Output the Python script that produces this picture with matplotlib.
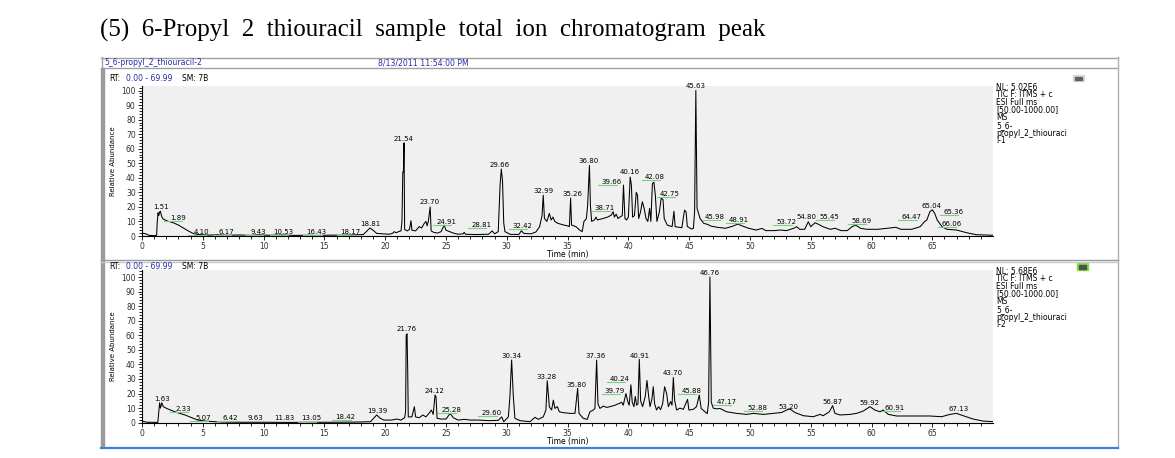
import matplotlib
matplotlib.use("Agg")
import matplotlib.pyplot as plt
from matplotlib.patches import Rectangle
from matplotlib.lines import Line2D
from matplotlib.ticker import MultipleLocator

W, H = 1175, 458

title = "(5)  6-Propyl  2  thiouracil  sample  total  ion  chromatogram  peak"
file_name = "5_6-propyl_2_thiouracil-2"
run_date = "8/13/2011 11:54:00 PM"

# ---- run 1 (top) : trace vertices ----
top_t = [0.0, 0.3, 0.6, 1.0, 1.2, 1.25, 1.32, 1.38, 1.45, 1.51, 1.6, 1.7, 1.89, 2.2, 2.6,
         3.0, 3.4, 3.8, 4.2, 4.6, 5.0, 5.5, 6.2, 7.0, 8.0, 9.0, 9.5, 10.5, 11.5, 12.5,
         13.5, 14.5, 15.5, 16.5, 17.5, 18.2, 18.5, 18.75, 19.0, 19.3, 19.8, 20.3, 20.6,
         20.75, 20.9, 21.1, 21.3, 21.38, 21.45, 21.5, 21.55, 21.6, 21.8, 22.0, 22.12,
         22.2, 22.5, 22.8, 23.0, 23.2, 23.35, 23.45, 23.55, 23.7, 23.78, 24.0, 24.3,
         24.6, 24.85, 25.0, 25.3, 25.6, 26.0, 26.4, 26.5, 26.6, 27.5, 28.5, 28.8, 29.0,
         29.3, 29.45, 29.55, 29.65, 29.75, 29.85, 30.3, 31.0, 31.2, 31.4, 32.0, 32.4,
         32.7, 32.9, 33.0, 33.1, 33.3, 33.5, 33.65, 33.8, 33.95, 34.2, 34.7, 35.0,
         35.15, 35.25, 35.33, 35.7, 36.0, 36.2, 36.35, 36.55, 36.65, 36.8, 36.88, 36.98,
         37.2, 37.35, 37.45, 37.9, 38.3, 38.6, 38.75, 38.85, 39.0, 39.15, 39.3, 39.5,
         39.6, 39.72, 39.85, 40.0, 40.15, 40.25, 40.35, 40.5, 40.65, 40.75, 40.85, 41.0,
         41.15, 41.3, 41.45, 41.6, 41.75, 41.85, 41.98, 42.1, 42.22, 42.35, 42.55, 42.7,
         42.85, 42.95, 43.2, 43.6, 43.75, 43.85, 44.4, 44.62, 44.75, 44.85, 45.2, 45.35,
         45.45, 45.55, 45.65, 45.9, 46.2, 46.5, 46.8, 47.3, 48.0, 48.6, 49.0, 49.4, 49.9,
         50.5, 51.0, 51.3, 52.0, 52.5, 53.0, 53.6, 53.84, 54.1, 54.5, 54.8, 55.0, 55.35,
         55.6, 56.0, 56.6, 57.0, 57.5, 58.0, 58.4, 58.7, 59.1, 59.6, 60.5, 61.3, 62.0,
         62.4, 63.3, 64.0, 64.35, 64.55, 64.8, 65.0, 65.2, 65.4, 65.8, 66.2, 67.0, 67.8,
         68.6, 69.99]
top_ab = [2.0, 1.5, 0.4, 0.3, 0.4, 9, 16, 14, 16.5, 17, 14, 12, 11, 10, 9,
          7.5, 5.5, 3.5, 1.8, 1.0, 0.8, 0.6, 0.8, 0.5, 0.7, 0.4, 0.8, 0.5, 0.7, 0.4,
          0.5, 0.4, 0.6, 0.5, 0.8, 1.0, 3.5, 5.5, 4.0, 1.8, 1.5, 1.2, 1.8,
          3.0, 2.2, 3.0, 3.5, 10, 44, 44, 64, 4.5, 3.5, 4.5, 10.5,
          4, 3.5, 6.5, 5.5, 8.5, 10, 7, 10, 20, 3.5, 2.5, 2.0,
          3, 7.5, 4, 3, 2.0, 1.2, 1.5, 2.5, 1.2, 1.0, 1.2, 3.5, 1.5,
          3, 35, 46, 38, 9, 3, 1.1, 1.1, 3.6, 1.8, 1.5, 2.8,
          6.4, 14, 28, 12, 10, 15.5, 11, 13, 10, 8.7, 7.5, 7,
          6.5, 26, 7.5, 6.4, 4, 3, 10, 12, 21, 48.5, 21, 10,
          11, 13, 11, 12, 13, 14.4, 16.7, 13, 15, 12, 13, 14,
          35, 12, 11, 13, 40.5, 35, 13, 14, 30, 28, 12, 16.5,
          23.5, 19, 12, 10, 19, 10, 36, 37, 28, 10, 16.5, 26,
          25, 12, 7.5, 6.4, 17, 6.4, 5.7, 17.8, 16.5, 6.5, 4.8, 5.2,
          17, 100, 19, 12, 8.7, 8, 6.8, 6.0, 5.3, 6.8, 8.2, 6.8, 5.3,
          4.1, 5.2, 3.7, 3.7, 4.1, 3.7, 5.3, 6.4, 4.6, 4.6, 9.8, 6.4, 9.1,
          8.2, 6.4, 4.6, 5.3, 3.7, 3.7, 6.4, 7.5, 5.3, 4.6, 4.6, 5.3, 6.0,
          4.6, 4.6, 6.4, 9.8, 11, 16.7, 18, 15.5, 11, 6.4, 4.6, 4.1, 2.3,
          0.9, 0.5]

top_lbl = ["1.51", "1.89", "4.10", "6.17", "9.43", "10.53", "16.43", "18.17", "18.81",
           "21.54", "23.70", "24.91", "28.81", "29.66", "32.42", "32.99", "35.26", "36.80",
           "38.71", "39.66", "40.16", "42.08", "42.75", "45.63", "45.98", "48.91", "53.72",
           "54.80", "55.45", "58.69", "64.47", "65.04", "65.36", "66.06"]
top_lbl_t = [1.53, 2.93, 4.9, 6.96, 9.57, 11.62, 14.37, 17.1, 18.75,
             21.49, 23.68, 25.05, 27.93, 29.44, 31.28, 33.0, 35.42, 36.76,
             38.08, 38.63, 40.13, 42.19, 43.42, 45.53, 47.12, 49.12, 53.02,
             54.66, 56.5, 59.18, 63.3, 64.94, 66.72, 66.58]
top_lbl_y = [19.9, 12.6, 3.0, 3.0, 3.0, 3.0, 3.0, 3.0, 8.2,
             67, 23.6, 9.8, 7.6, 48.8, 7.1, 31, 28.6, 51.5,
             19, 37.3, 43.7, 40.3, 28.9, 103.3, 13.3, 11, 9.9,
             13.3, 13.3, 10.5, 12.8, 20.6, 16.5, 8]
top_lbl_flag = [0, 1, 1, 1, 1, 1, 1, 1, 0,
                0, 0, 1, 1, 0, 1, 0, 0, 0,
                1, 1, 0, 1, 1, 0, 1, 1, 1,
                0, 1, 1, 1, 0, 1, 1]
top_info = ["NL: 5.02E6", "TIC F: ITMS + c", "ESI Full ms", "[50.00-1000.00]", "MS",
            "5_6-", "propyl_2_thiouraci", "l-1"]

# ---- run 2 (bottom) ----
bot_t = [0.0, 0.4, 1.3, 1.38, 1.45, 1.52, 1.63, 1.75, 2.03, 2.4, 2.71, 3.1, 3.54, 4.1,
         4.6, 5.2, 6.0, 7.0, 8.5, 10.0, 12.0, 14.0, 16.0, 18.0, 18.8, 19.0, 19.3, 19.6,
         19.9, 20.5, 20.95, 21.3, 21.6, 21.68, 21.73, 21.8, 21.85, 21.9, 22.2, 22.4,
         22.5, 22.8, 23.1, 23.35, 23.6, 23.8, 23.95, 24.1, 24.18, 24.27, 24.6, 25.0,
         25.35, 25.6, 26.0, 26.5, 27.0, 27.7, 28.5, 29.3,
         29.58, 29.75, 30.13, 30.26, 30.4, 30.54, 30.67, 31.09, 31.91, 32.32, 32.59,
         33.0, 33.22, 33.33, 33.5, 33.69, 33.83, 33.96, 34.16, 34.32, 34.65, 35.2,
         35.61, 35.83, 35.94, 36.29, 36.62, 36.84, 37.11, 37.25, 37.39, 37.5, 37.66,
         37.94, 38.21, 38.49, 38.9, 39.17, 39.45, 39.58, 39.8, 39.97, 40.07, 40.21,
         40.32, 40.46, 40.57, 40.68, 40.79, 40.9, 41.01, 41.17, 41.39, 41.53, 41.67,
         41.78, 41.94, 42.05, 42.16, 42.32, 42.49, 42.65, 42.82, 42.98, 43.15, 43.29,
         43.48, 43.59, 43.7, 43.81, 43.97, 44.24, 44.52, 44.87, 44.98, 45.34, 45.61,
         45.83, 45.99, 46.3, 46.49, 46.6, 46.71, 46.82, 46.98, 47.26,
         47.53, 48.08, 48.9, 49.73, 50.27, 51.1, 51.92, 52.6, 53.02, 53.29, 53.7,
         54.39, 55.21, 55.76, 56.03, 56.53, 56.8, 56.99, 57.41, 58.23, 58.77, 59.32,
         59.87, 60.28, 60.69, 60.96, 61.38, 62.06, 63.43, 64.8, 65.76, 66.45, 66.99,
         67.54, 68.36, 69.19, 69.99]
bot_ab = [1.1, 0.3, 0.2, 7.5, 13.7, 10, 13.7, 11, 9.8, 8.5, 7.5, 6.4, 5.3, 3.4,
          1.8, 1.1, 0.7, 0.4, 0.3, 0.3, 0.2, 0.3, 0.3, 0.5, 0.7, 2.5, 5.3, 3,
          1.8, 1.8, 2.5, 1.8, 3.4, 7.5, 60, 61, 37, 4, 4, 11,
          4, 3.4, 5.3, 4, 6.4, 8.7, 5.7, 19, 17.8, 3, 2.5, 2.5,
          6.4, 3.4, 1.8, 2.3, 1.8, 1.8, 1.4, 1.6,
          4, 0.7, 4, 18, 43, 18, 3, 1.4, 0.7, 3.7, 2.3,
          4, 8.7, 28.8, 11, 8.7, 15.5, 9.8, 11, 7.5, 6.9, 6.4,
          6.4, 23.6, 6.4, 3, 2.3, 7.5, 8.7, 9.8, 43, 13, 9.8,
          11.4, 10.5, 11, 12, 13, 14, 12, 20, 14, 12, 26,
          14, 11, 18, 12, 13, 43.5, 15, 11, 18, 29, 18,
          11, 16.5, 24.7, 13, 8.7, 11, 9, 13, 24.7, 20, 11,
          14.5, 12, 31, 15, 8.7, 10, 9.2, 16, 8.7, 9.2, 11,
          19, 9.8, 7.5, 6.2, 14, 100, 14, 10, 9.5,
          9.8, 7.5, 6.4, 5.7, 6.4, 5.7, 6.4, 7, 8.7, 9.4, 7,
          4.8, 4.1, 5.7, 4.8, 7.5, 11.7, 6.4, 5.3, 5.7, 6.4, 8,
          11, 8.7, 7.5, 8.7, 5.7, 4.6, 4.6, 4.6, 4.1, 5.7, 6.4,
          4.8, 2.5, 1.1, 0.7]

bot_lbl = ["1.63", "2.33", "5.07", "6.42", "9.63", "11.83", "13.05", "18.42", "19.39",
           "21.76", "24.12", "25.28", "29.60", "30.34", "33.28", "35.80", "37.36", "39.79",
           "40.24", "40.91", "43.70", "45.88", "46.76", "47.17", "52.88", "53.20", "56.87",
           "59.92", "60.91", "67.13"]
bot_lbl_t = [1.62, 3.4, 5.04, 7.24, 9.3, 11.68, 13.95, 16.75, 19.35,
             21.77, 24.04, 25.41, 28.76, 30.4, 33.28, 35.75, 37.31, 38.9,
             39.31, 40.9, 43.64, 45.2, 46.71, 48.08, 50.6, 53.15, 56.8,
             59.87, 61.93, 67.13]
bot_lbl_y = [16.2, 9.2, 3.4, 3.4, 3.4, 3.4, 2.9, 4.1, 8.0,
             64.5, 21.7, 8.9, 6.4, 46, 31.6, 25.9, 46, 21.7,
             30, 46, 33.9, 21.7, 102.5, 14.4, 9.8, 11, 14.4,
             13.7, 10.3, 9.4]
bot_lbl_flag = [0, 1, 1, 1, 0, 0, 1, 1, 0,
                0, 0, 1, 1, 0, 0, 0, 0, 1,
                1, 0, 0, 1, 0, 1, 1, 0, 0,
                0, 1, 0]
bot_info = ["NL: 5.68E6", "TIC F: ITMS + c", "ESI Full ms", "[50.00-1000.00]", "MS",
            "5_6-", "propyl_2_thiouraci", "l-2"]

BLUE = "#2a2aa8"
GREEN = "#7ccf7c"
FS = 5.5

fig = plt.figure(figsize=(W / 100, H / 100), dpi=100)


def fx(x):
    return x / W


def fy(y):
    return 1 - y / H


def hline(x0, x1, y, color, lw=1.0):
    fig.add_artist(Line2D([fx(x0), fx(x1)], [fy(y), fy(y)], color=color, lw=lw))


def vline(x, y0, y1, color, lw=1.0):
    fig.add_artist(Line2D([fx(x), fx(x)], [fy(y0), fy(y1)], color=color, lw=lw))


# title
fig.text(fx(100), fy(30), title, fontsize=18, family="Liberation Serif", va="center")

# window frame
hline(101, 1118, 57.5, "#a0a0a0")
hline(101, 1118, 67.5, "#a0a0a0")
vline(1117.5, 57, 448, "#b0b0b0")
vline(101.5, 57, 67, "#a0a0a0")
fig.add_artist(Rectangle((fx(101), fy(447)), fx(3), fy(68) - fy(447), color="#9a9a9a"))
hline(101, 1118, 259.5, "#9a9a9a")
hline(101, 1118, 261.5, "#c8c8c8")
hline(101, 1118, 447.5, "#3c82dc", lw=1.6)
fig.text(fx(104), fy(62.5), file_name, fontsize=5.6, color=BLUE, va="center")
fig.text(fx(378), fy(62.5), run_date, fontsize=5.6, color=BLUE, va="center")

# little pin icons at the top right of each panel
fig.add_artist(Rectangle((fx(1073), fy(81)), fx(11), fy(75) - fy(81), color="#d8d8d8"))
fig.add_artist(Rectangle((fx(1075), fy(79.5)), fx(7), fy(76.5) - fy(79.5), color="#606060"))
fig.add_artist(Rectangle((fx(1077), fy(270)), fx(11), fy(263) - fy(270), color="#7ee03a"))
fig.add_artist(Rectangle((fx(1079), fy(268.5)), fx(7), fy(264.5) - fy(268.5), color="#505050"))


def panel(y_top, y_100, y_zero, rt_y, t, ab, lbl, lbl_t, lbl_y, flag, info):
    ymax = (y_zero - y_top) / (y_zero - y_100) * 100
    ax = fig.add_axes([fx(142), fy(y_zero), fx(993 - 142), fy(y_top) - fy(y_zero)])
    ax.set_facecolor("#f0f0f0")
    ax.plot(t, ab, color="black", lw=0.75)
    ax.set_xlim(0, 69.99)
    ax.set_ylim(0, ymax)
    for s in ["top", "right"]:
        ax.spines[s].set_visible(False)
    for s in ["left", "bottom"]:
        ax.spines[s].set_linewidth(0.8)
    ax.xaxis.set_major_locator(MultipleLocator(5))
    ax.xaxis.set_minor_locator(MultipleLocator(1))
    ax.yaxis.set_minor_locator(MultipleLocator(2))
    ax.set_yticks(range(0, 101, 10))
    ax.tick_params(which="both", direction="out", length=3, width=0.6,
                   labelsize=FS, pad=1.5, labelcolor="#303030")
    ax.tick_params(which="minor", length=2)
    ax.set_xlabel("Time (min)", fontsize=FS, labelpad=-1)
    ax.set_ylabel("Relative Abundance", fontsize=5, labelpad=4)
    for s, lt, ly, fl in zip(lbl, lbl_t, lbl_y, flag):
        ax.text(lt, ly, s, fontsize=5, ha="center", va="center")
        if fl:
            ax.plot([lt - 1.1, lt + 0.4], [ly - 2.1, ly - 2.1], color=GREEN, lw=0.8)
    # RT header
    fig.text(fx(109), fy(rt_y), "RT:", fontsize=FS, va="center")
    fig.text(fx(126), fy(rt_y), "0.00 - 69.99", fontsize=FS, va="center", color=BLUE)
    fig.text(fx(182), fy(rt_y), "SM: 7B", fontsize=FS, va="center")
    # info block at the right
    for i, s in enumerate(info):
        fig.text(fx(996), fy(y_top + 1 + i * 7.7), s, fontsize=FS, va="center")
    return ax


panel(86, 90.5, 236, 78.5, top_t, top_ab, top_lbl, top_lbl_t, top_lbl_y, top_lbl_flag, top_info)
panel(270, 277, 422.7, 266.5, bot_t, bot_ab, bot_lbl, bot_lbl_t, bot_lbl_y, bot_lbl_flag, bot_info)

fig.savefig("out.png", dpi=100)
